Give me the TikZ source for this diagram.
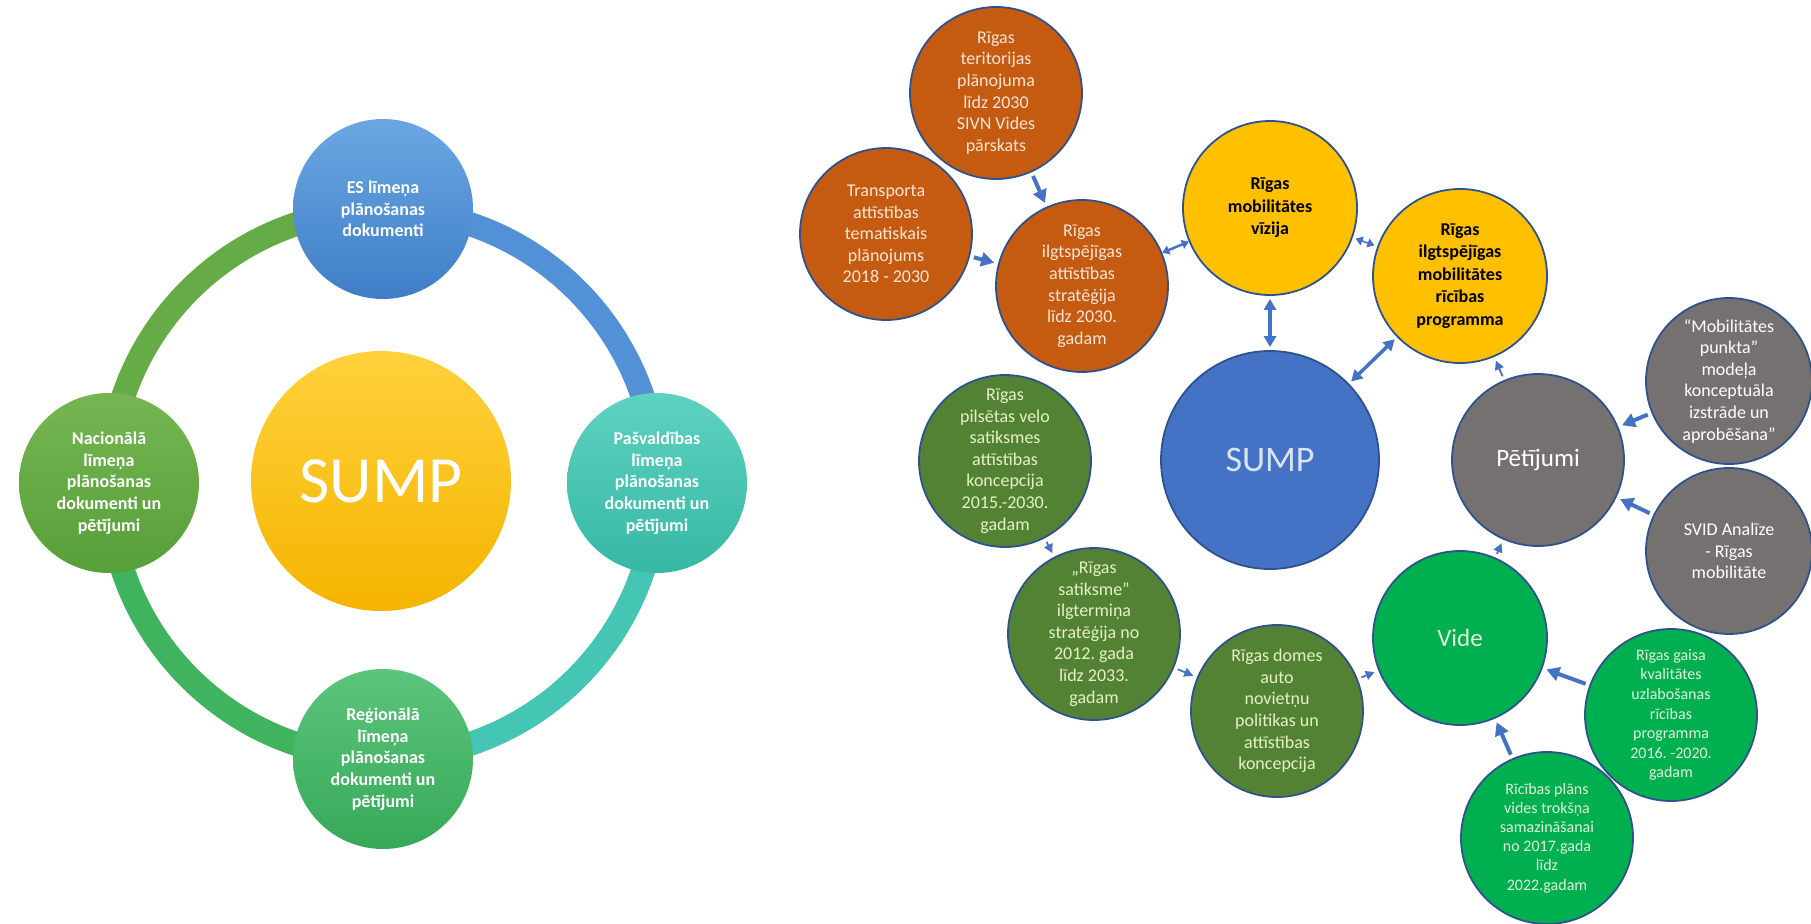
\documentclass[tikz,border=0pt]{standalone}
\usepackage{fontspec}
\setmainfont{Carlito}
\usetikzlibrary{arrows.meta}
\frenchspacing

\definecolor{esblueA}{HTML}{6AA7E2}
\definecolor{esblueB}{HTML}{3F7EC8}
\definecolor{tealA}{HTML}{5ED2C0}
\definecolor{tealB}{HTML}{36B8A4}
\definecolor{regA}{HTML}{5CC47C}
\definecolor{regB}{HTML}{36A958}
\definecolor{nacA}{HTML}{76B652}
\definecolor{nacB}{HTML}{569F39}
\definecolor{sunA}{HTML}{FFD13C}
\definecolor{sunB}{HTML}{F5B400}
\definecolor{ringblue}{HTML}{5291D6}
\definecolor{ringteal}{HTML}{45C6B4}
\definecolor{ringgreen}{HTML}{3FB35E}
\definecolor{ringolive}{HTML}{66AC46}
\definecolor{rust}{HTML}{C55A11}
\definecolor{gold}{HTML}{FFC000}
\definecolor{office}{HTML}{4472C4}
\definecolor{edge}{HTML}{2F528F}
\definecolor{slate}{HTML}{767171}
\definecolor{moss}{HTML}{548235}
\definecolor{leaf}{HTML}{00B050}
\definecolor{rusttext}{HTML}{FBE5D6}
\definecolor{mosstext}{HTML}{E4F2C4}
\definecolor{leaftext}{HTML}{E2F0D9}
\definecolor{sumptext}{HTML}{DAE3F3}

\tikzset{
  ringpart/.style={line width=24pt},
  lvlbox/.style={shape=circle,minimum size=180pt,inner sep=-30pt,align=center,text=white,
    font=\bfseries\fontsize{18}{21.6}\selectfont},
  bubble/.style={shape=circle,minimum size=172pt,inner sep=-40pt,align=center,draw=edge,line width=1.8pt,
    font=\fontsize{18}{21.6}\selectfont},
  rustbox/.style={bubble,fill=rust,text=rusttext},
  goldbox/.style={bubble,fill=gold,text=black,minimum size=174pt,font=\bfseries\fontsize{18}{22.5}\selectfont},
  slatebox/.style={bubble,fill=slate,text=white},
  mossbox/.style={bubble,fill=moss,text=mosstext},
  leafbox/.style={bubble,fill=leaf,text=leaftext},
  thickarr/.style={draw=office,line width=4pt,shorten <=4pt,shorten >=4pt,-{Triangle[length=13pt,width=14pt]}},
  thinarr/.style={draw=office,line width=1.8pt,shorten <=4pt,shorten >=4pt,-{Triangle[length=9pt,width=9pt]}},
  botharr/.style={draw=office,line width=3.5pt,shorten <=3pt,shorten >=3pt,{Triangle[length=11pt,width=12pt]}-{Triangle[length=11pt,width=12pt]}},
  shortarr/.style={draw=office,line width=2.5pt,{Triangle[length=7pt,width=9pt]}-{Triangle[length=7pt,width=9pt]}}
}

\begin{document}
\begin{tikzpicture}[x=1pt,y=-1pt]
\useasboundingbox (0,0) rectangle (1811,923);

\coordinate (ringc) at (383,484);
\draw[ringpart,draw=ringblue] (ringc) ++(0:274) arc[start angle=0,end angle=-90,radius=274];
\draw[ringpart,draw=ringteal] (ringc) ++(0:274) arc[start angle=0,end angle=90,radius=274];
\draw[ringpart,draw=ringgreen] (ringc) ++(90:274) arc[start angle=90,end angle=180,radius=274];
\draw[ringpart,draw=ringolive] (ringc) ++(180:274) arc[start angle=180,end angle=270,radius=274];

\node[lvlbox,minimum size=260pt,top color=sunA,bottom color=sunB,font=\fontsize{66}{70}\selectfont] (lsump) at (381,481) {SUMP};
\node[lvlbox,top color=esblueA,bottom color=esblueB] (les) at (383,209) {ES līmeņa\\plānošanas\\dokumenti};
\node[lvlbox,top color=tealA,bottom color=tealB] (lpas) at (657,483) {Pašvaldības\\līmeņa\\plānošanas\\dokumenti un\\pētījumi};
\node[lvlbox,top color=regA,bottom color=regB] (lreg) at (383,759) {Reģionālā\\līmeņa\\plānošanas\\dokumenti un\\pētījumi};
\node[lvlbox,top color=nacA,bottom color=nacB] (lnac) at (109,483) {Nacionālā\\līmeņa\\plānošanas\\dokumenti un\\pētījumi};

\node[rustbox] (ter) at (996,93) {Rīgas\\teritorijas\\plānojuma\\līdz 2030\\SIVN Vides\\pārskats};
\node[rustbox] (trans) at (886,234) {Transporta\\attīstības\\tematiskais\\plānojums\\2018 - 2030};
\node[rustbox] (strat) at (1082,286) {Rīgas\\ilgtspējīgas\\attīstības\\stratēģija\\līdz 2030.\\gadam};
\node[goldbox] (viz) at (1270,208) {Rīgas\\mobilitātes\\vīzija};
\node[goldbox] (prog) at (1460,276) {Rīgas\\ilgtspējīgas\\mobilitātes\\rīcības\\programma};
\node[bubble,fill=office,text=sumptext,minimum size=218pt,font=\fontsize{36}{40}\selectfont] (sump) at (1270,460) {SUMP};
\node[slatebox,font=\fontsize{25}{28}\selectfont] (pet) at (1538,460) {Pētījumi};
\node[slatebox,minimum size=166pt] (punkts) at (1729,381) {“Mobilitātes\\punkta”\\modeļa\\konceptuāla\\izstrāde un\\aprobēšana”};
\node[slatebox,minimum size=166pt] (svid) at (1729,551) {SVID Analīze\\- Rīgas\\mobilitāte};
\node[leafbox,minimum size=174pt,font=\fontsize{25}{28}\selectfont] (vide) at (1460,638) {Vide};
\node[leafbox,font=\fontsize{16}{19.6}\selectfont] (gaiss) at (1671,715) {Rīgas gaisa\\kvalitātes\\uzlabošanas\\rīcības\\programma\\2016. -2020.\\gadam};
\node[leafbox,font=\fontsize{16}{19.2}\selectfont] (troksnis) at (1547,838) {Rīcības plāns\\vides trokšņa\\samazināšanai\\no 2017.gada\\līdz\\2022.gadam};
\node[mossbox] (velo) at (1005,461) {Rīgas\\pilsētas velo\\satiksmes\\attīstības\\koncepcija\\2015.-2030.\\gadam};
\node[mossbox] (satiksme) at (1094,634) {„Rīgas\\satiksme”\\ilgtermiņa\\stratēģija no\\2012. gada\\līdz 2033.\\gadam};
\node[mossbox] (domes) at (1277,711) {Rīgas domes\\auto\\novietņu\\politikas un\\attīstības\\koncepcija};

\draw (ter) [thickarr] -- (strat);
\draw (trans) [thickarr] -- (strat);
\draw (strat) [shortarr] -- (viz);
\draw (viz) [shortarr,line width=1.6pt,shorten <=3pt,shorten >=3pt] -- (prog);
\draw (viz) [botharr] -- (sump);
\draw (sump) [botharr] -- (prog);
\draw (pet) [thinarr] -- (prog);
\draw (punkts) [thickarr] -- (pet);
\draw (svid) [thickarr] -- (pet);
\draw (vide) [thinarr] -- (pet);
\draw (gaiss) [thickarr] -- (vide);
\draw (troksnis) [thickarr] -- (vide);
\draw (domes) [thinarr] -- (vide);
\draw (satiksme) [thinarr] -- (domes);
\draw (velo) [thinarr] -- (satiksme);
\end{tikzpicture}
\end{document}
